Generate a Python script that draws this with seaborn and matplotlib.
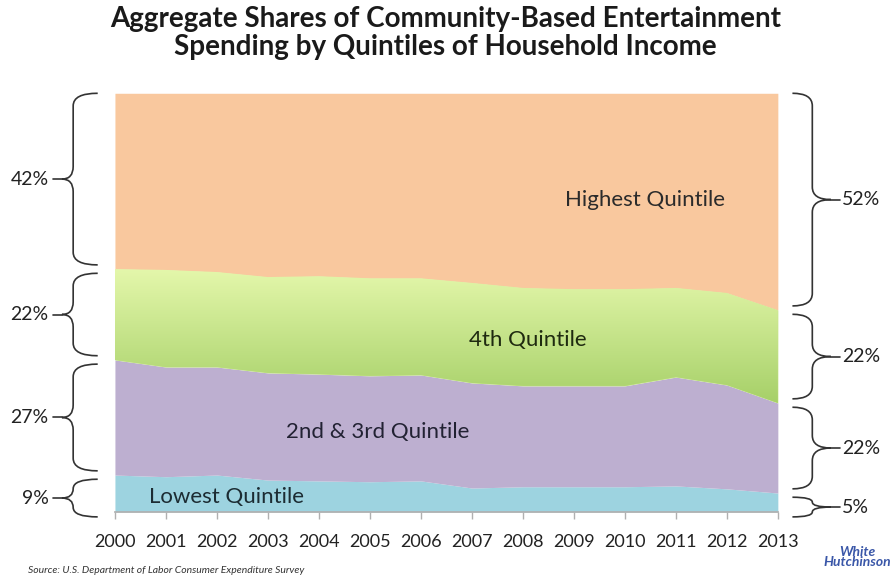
import numpy as np
import pandas as pd
import matplotlib
matplotlib.use("Agg")
import matplotlib.pyplot as plt
import seaborn as sns
from matplotlib.path import Path
from matplotlib.patches import PathPatch
from matplotlib.colors import LinearSegmentedColormap
from matplotlib.transforms import blended_transform_factory

sns.set_theme(style="white")
plt.rcParams['font.family'] = ['Lato', 'DejaVu Sans']

# shares (%)
years = list(range(2000, 2014))
lowest = [8.8, 8.4, 8.8, 7.6, 7.4, 7.2, 7.4, 5.7, 6.0, 6.0, 6.0, 6.2, 5.5, 4.5]
second_third = [27.5, 26.2, 25.8, 25.6, 25.5, 25.3, 25.3, 25.1, 24.1, 24.1, 24.1, 26.0, 24.8, 21.5]
fourth = [21.7, 23.2, 22.7, 22.9, 23.4, 23.3, 23.1, 23.9, 23.4, 23.1, 23.1, 21.3, 22.0, 22.2]
highest = [42.0, 42.2, 42.7, 43.9, 43.7, 44.2, 44.2, 45.3, 46.5, 46.8, 46.8, 46.5, 47.7, 51.8]

series_names = ["Lowest Quintile", "2nd & 3rd Quintile", "4th Quintile", "Highest Quintile"]
left_labels = ["9%", "27%", "22%", "42%"]
right_labels = ["5%", "22%", "22%", "52%"]

df = pd.DataFrame({"year": years, "Lowest Quintile": lowest,
                   "2nd & 3rd Quintile": second_third,
                   "4th Quintile": fourth, "Highest Quintile": highest})

colors = ["#9dd3e0", "#bdafd0", "#c6e58a", "#f9c89e"]

fig = plt.figure(figsize=(8.91, 5.83), dpi=100)
ax = fig.add_axes([0.129, 0.122, 0.744, 0.718])

polys = ax.stackplot(df["year"], [df[c] for c in series_names], colors=colors, linewidth=0)

# green band gradient (light on top, darker at bottom)
cum2 = np.array(lowest) + np.array(second_third)
cum3 = cum2 + np.array(fourth)
green = LinearSegmentedColormap.from_list("g", ["#a6d068", "#e4f7ab"])
grad = np.linspace(0, 1, 256).reshape(-1, 1)
img = ax.imshow(grad, cmap=green, origin="lower", aspect="auto",
                extent=[years[0], years[-1], cum2.min(), cum3.max()], zorder=2)
img.set_clip_path(polys[2].get_paths()[0], transform=ax.transData)

ax.set_xlim(years[0], years[-1])
ax.set_ylim(0, 100)
ax.set_xticks(years)
ax.set_xticklabels([str(y) for y in years], fontsize=13, color="#222222")
ax.set_yticks([])
ax.tick_params(axis="x", direction="out", length=5, width=1, color="#b0b0b0", pad=11, bottom=True)
for s in ["left", "top", "right"]:
    ax.spines[s].set_visible(False)
ax.spines["bottom"].set_color("#b0b0b0")
ax.spines["bottom"].set_zorder(5)

# band labels
ax.text(2010.4, 74.5, "Highest Quintile", fontsize=16, ha="center", va="center", color="#2b2b2b", zorder=6)
ax.text(2008.1, 41, "4th Quintile", fontsize=16, ha="center", va="center", color="#1f2a10", zorder=6)
ax.text(2005.16, 19.1, "2nd & 3rd Quintile", fontsize=16, ha="center", va="center", color="#222233", zorder=6)
ax.text(2002.18, 3.5, "Lowest Quintile", fontsize=16, ha="center", va="center", color="#1c2c33", zorder=6)


def brace(ax, y0, y1, x_arm, x_mid, x_tip, label, x_text, ha):
    # curly brace, x in axes fraction, y in data units
    tr = blended_transform_factory(ax.transAxes, ax.transData)
    yc = (y0 + y1) / 2
    r = min(3.0, (y1 - y0) / 4)
    verts = [(x_arm, y1), (x_mid, y1), (x_mid, y1 - r),
             (x_mid, yc + r),
             (x_mid, yc), (x_tip, yc),
             (x_mid, yc), (x_mid, yc - r),
             (x_mid, y0 + r),
             (x_mid, y0), (x_arm, y0)]
    codes = [Path.MOVETO, Path.CURVE3, Path.CURVE3,
             Path.LINETO,
             Path.CURVE3, Path.CURVE3,
             Path.CURVE3, Path.CURVE3,
             Path.LINETO,
             Path.CURVE3, Path.CURVE3]
    ax.add_patch(PathPatch(Path(verts, codes), transform=tr, fill=False,
                           edgecolor="#333333", linewidth=1.2, clip_on=False))
    x_line = x_tip - (x_mid - x_tip) * 0.8 if ha == "right" else x_tip + (x_tip - x_mid) * 0.5
    ax.plot([x_tip, x_line], [yc, yc], color="#333333", lw=1.2, transform=tr, clip_on=False)
    ax.text(x_text, yc, label, transform=tr, ha=ha, va="center", fontsize=14, color="#222222")


gap = 1.0
bounds0 = np.concatenate([[0], np.cumsum([lowest[0], second_third[0], fourth[0], highest[0]])])
bounds1 = np.concatenate([[0], np.cumsum([lowest[-1], second_third[-1], fourth[-1], highest[-1]])])
bounds0[-1] = 100
bounds1[-1] = 100
for i in range(4):
    lo0 = bounds0[i] + gap if i > 0 else -1.2
    brace(ax, lo0, bounds0[i + 1] - gap + (1 if i == 3 else 0),
          -0.026, -0.063, -0.080, left_labels[i], -0.100, "right")
    lo1 = bounds1[i] + gap if i > 0 else -1.2
    brace(ax, lo1, bounds1[i + 1] - gap + (1 if i == 3 else 0),
          1.022, 1.052, 1.080, right_labels[i], 1.097, "left")

fig.text(0.5, 0.99, "Aggregate Shares of Community-Based Entertainment\nSpending by Quintiles of Household Income",
         ha="center", va="top", fontsize=20, fontweight="bold", color="#1a1a1a", linespacing=1.1)

fig.text(0.031, 0.013, "Source: U.S. Department of Labor Consumer Expenditure Survey",
         fontsize=7.5, style="italic", color="#333333", ha="left", va="bottom")
fig.text(0.962, 0.045, "White\nHutchinson", fontsize=10, style="italic", fontweight="bold",
         color="#3a57a8", ha="center", va="center", linespacing=0.85)

plt.savefig("out.png", dpi=100)
